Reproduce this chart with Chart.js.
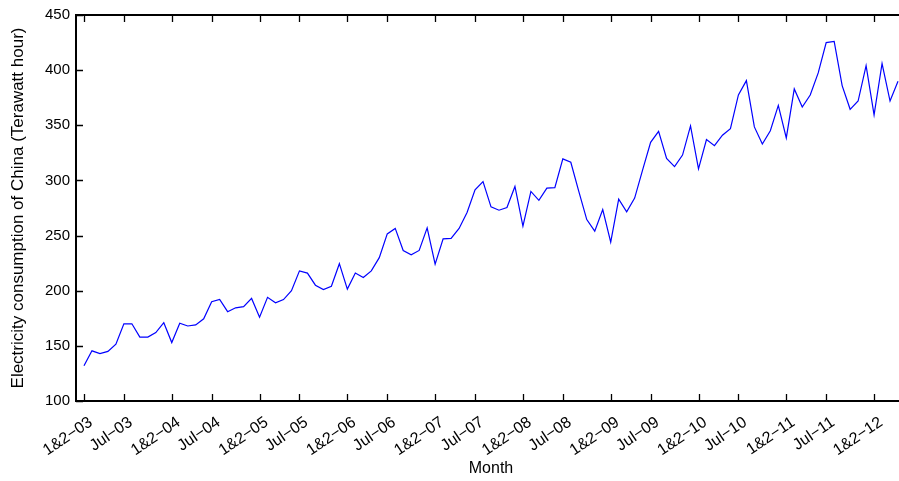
<!DOCTYPE html>
<html>
<head>
<meta charset="utf-8">
<script src="https://cdn.jsdelivr.net/npm/chart.js@4/dist/chart.umd.min.js"></script>
<style>
  html, body { margin: 0; padding: 0; background: #fff; overflow: hidden; }
  #wrap { width: 906px; height: 481px; }
</style>
</head>
<body>
<div id="wrap"><canvas id="elecChart"></canvas></div>
<script>
// месяцы (январь и февраль в Китае публикуют вместе)
const months = ["1&2", "Mar", "Apr", "May", "Jun", "Jul", "Aug", "Sep", "Oct", "Nov", "Dec"];
const years = ["03", "04", "05", "06", "07", "08", "09", "10", "11", "12"];

// потребление электроэнергии, ТВт·ч, с 1&2-03 по May-12
const consumption = [
  132, 145.5, 143, 145, 151.5, 170, 170, 158, 158, 162, 171,
  153, 170.5, 168, 169, 174.5, 190, 192, 181, 184.5, 185.5, 193,
  176, 194, 189, 192, 200, 218, 216, 205, 201, 204, 224.5,
  201.5, 216, 212, 218, 230, 251.5, 256.5, 236.5, 232.5, 236.5, 257,
  224, 247, 247.5, 256.5, 271, 291.5, 299, 276, 273, 275.5, 294.5,
  258.5, 290, 282, 293, 293.5, 319.5, 316.5, 290, 264.5, 254, 273.5,
  244, 283, 271.5, 284, 309.5, 334.5, 344.5, 320, 312.5, 323, 349.5,
  310.5, 337, 331.5, 341, 347, 377.5, 390.5, 348.5, 333, 345, 368,
  338.5, 383, 366.5, 377.5, 397.5, 425, 426, 386, 364.5, 372, 404,
  359.5, 406, 372, 390
];

const yTicks = [100, 150, 200, 250, 300, 350, 400, 450];

// подписи по оси X: каждый месяц, сколько есть данных
const monthLabels = [];
years.forEach((yy) => months.forEach((m) => monthLabels.push(`${m}\u2212${yy}`)));
monthLabels.length = consumption.length;

// деления оси X только на 1&2 и Jul
const xTickIdx = [];
monthLabels.forEach((l, i) => {
  if (l.startsWith("1&2") || l.startsWith("Jul")) xTickIdx.push(i);
});

const points = consumption.map((v, i) => ({ x: i, y: v }));

const FAMILY = "'Liberation Sans', Arial, sans-serif";

// рамка и внутренние засечки со всех сторон
const framePlugin = {
  id: "frame",
  afterDraw(chart) {
    const { ctx, chartArea: a, scales } = chart;
    const x = scales.x, y = scales.y;
    ctx.save();
    ctx.strokeStyle = "#000";
    ctx.lineWidth = 1.3;
    ctx.beginPath();
    x.ticks.forEach((t) => {
      const px = Math.round(x.getPixelForValue(t.value)) + 0.5;
      ctx.moveTo(px, a.bottom);
      ctx.lineTo(px, a.bottom - 7);
      ctx.moveTo(px, a.top);
      ctx.lineTo(px, a.top + 7);
    });
    y.ticks.forEach((t) => {
      const py = Math.round(y.getPixelForValue(t.value)) + 0.5;
      ctx.moveTo(a.left, py);
      ctx.lineTo(a.left + 7, py);
      ctx.moveTo(a.right, py);
      ctx.lineTo(a.right - 7, py);
    });
    ctx.stroke();
    ctx.lineWidth = 2;
    ctx.strokeRect(a.left, a.top, a.right - a.left, a.bottom - a.top);
    ctx.restore();
  },
};

new Chart(elecChart, {
  type: "line",
  data: {
    datasets: [
      {
        data: points,
        borderColor: "#0000ff",
        borderWidth: 1.2,
        pointRadius: 0,
        tension: 0,
      },
    ],
  },
  options: {
    responsive: true,
    maintainAspectRatio: false,
    animation: false,
    layout: { padding: { top: 13, right: 0, left: 0, bottom: 0 } },
    plugins: { legend: { display: false }, tooltip: { enabled: false } },
    scales: {
      x: {
        type: "linear",
        min: -1,
        max: 103,
        grid: { display: false },
        border: { display: false },
        afterBuildTicks: (scale) => {
          scale.ticks = xTickIdx.map((v) => ({ value: v }));
        },
        afterFit: (scale) => {
          scale.height = 80;
        },
        ticks: {
          autoSkip: false,
          maxRotation: 34,
          minRotation: 34,
          padding: 4,
          labelOffset: 7,
          color: "#000",
          font: { family: FAMILY, size: 16 },
          callback: (v) => monthLabels[v],
        },
        title: {
          display: true,
          text: "Month",
          color: "#000",
          font: { family: FAMILY, size: 16 },
          padding: { top: 4, bottom: 3 },
        },
      },
      y: {
        min: 100,
        max: 450,
        grid: { display: false, drawTicks: false, tickLength: 0 },
        border: { display: false },
        afterBuildTicks: (scale) => {
          scale.ticks = yTicks.map((v) => ({ value: v }));
        },
        afterFit: (scale) => {
          scale.width = 76;
        },
        ticks: { padding: 6, color: "#000", font: { family: FAMILY, size: 15 } },
        title: {
          display: true,
          text: "Electricity consumption of China (Terawatt hour)",
          color: "#000",
          font: { family: FAMILY, size: 17 },
          padding: { top: 8, bottom: 4 },
        },
      },
    },
  },
  plugins: [framePlugin],
});
</script>
</body>
</html>
